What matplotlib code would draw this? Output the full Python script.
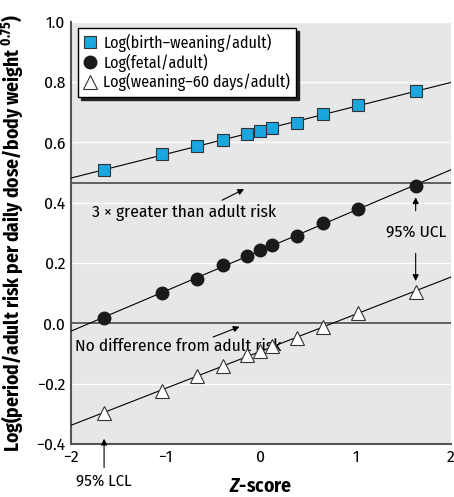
import numpy as np
import matplotlib
matplotlib.use("Agg")
import matplotlib.pyplot as plt

FONT = 'Fira Sans Condensed'
plt.rcParams['font.family'] = [FONT, 'DejaVu Sans']
plt.rcParams['mathtext.fontset'] = 'custom'
plt.rcParams['mathtext.rm'] = FONT + ':bold'
plt.rcParams['mathtext.bf'] = FONT + ':bold'
plt.rcParams['mathtext.bfit'] = FONT + ':bold:italic'
plt.rcParams['mathtext.it'] = FONT + ':italic'

# z-scores (same for all three series)
z = [-1.65, -1.045, -0.674, -0.40, -0.15, -0.01, 0.12, 0.38, 0.65, 1.02, 1.63]
birth_weaning = [0.510, 0.560, 0.587, 0.608, 0.628, 0.639, 0.647, 0.666, 0.695, 0.724, 0.770]
fetal = [0.019, 0.099, 0.146, 0.192, 0.224, 0.243, 0.260, 0.290, 0.332, 0.379, 0.454]
weaning_60 = [-0.298, -0.224, -0.175, -0.142, -0.106, -0.091, -0.077, -0.050, -0.012, 0.034, 0.104]

three_x_level = 0.465
no_diff_level = 0.0

labels = ["Log(birth\u2013weaning/adult)", "Log(fetal/adult)", "Log(weaning\u201360 days/adult)"]

fig = plt.figure(figsize=(4.54, 4.97), dpi=100)
ax = fig.add_axes([0.156, 0.107, 0.837, 0.849])
ax.set_facecolor("#e6e7e8")
ax.set_xlim(-2, 2)
ax.set_ylim(-0.4, 1.0)
ax.set_yticks(np.arange(-0.4, 1.01, 0.2))
ax.set_xticks([-2, -1, 0, 1, 2])
ax.set_yticklabels(["\u22120.4", "\u22120.2", "0.0", "0.2", "0.4", "0.6", "0.8", "1.0"])
ax.set_xticklabels(["\u22122", "\u22121", "0", "1", "2"])
ax.tick_params(length=0, labelsize=12.5, pad=4)
ax.grid(axis="y", color="white", lw=1)
ax.set_axisbelow(True)
for s in ["top", "right"]:
    ax.spines[s].set_visible(False)
for s in ["left", "bottom"]:
    ax.spines[s].set_color("#555555")
    ax.spines[s].set_linewidth(1.5)

ax.axhline(three_x_level, color="#555555", lw=1.3, zorder=2)
ax.axhline(no_diff_level, color="#555555", lw=1.3, zorder=2)

xx = np.array([-2, 2])
for ys in [birth_weaning, fetal, weaning_60]:
    b, a = np.polyfit(z, ys, 1)
    ax.plot(xx, a + b * xx, color="black", lw=0.8, zorder=3)

h1, = ax.plot(z, birth_weaning, "s", ms=8.5, mfc="#1aa7df", mec="#333333", mew=0.8, zorder=4)
h2, = ax.plot(z, fetal, "o", ms=9, mfc="#1a1a1a", mec="#1a1a1a", zorder=4)
h3, = ax.plot(z, weaning_60, "^", ms=10, mfc="white", mec="#333333", mew=0.8, zorder=4)

leg = ax.legend([h1, h2, h3], labels, loc="upper left", bbox_to_anchor=(0.02, 0.985),
                fontsize=11.5, frameon=True, fancybox=False, shadow={'color': '#222222', 'alpha': 1},
                borderpad=0.35, handlelength=0.8, handletextpad=0.4, labelspacing=0.1,
                borderaxespad=0.0)
leg.get_frame().set_edgecolor("black")
leg.get_frame().set_linewidth(1.0)
leg.get_frame().set_facecolor("white")
leg.get_frame().set_alpha(1)

arrow = dict(arrowstyle="-|>", color="black", lw=0.8, mutation_scale=9)

ax.annotate("", xy=(-0.15, 0.449), xytext=(-0.435, 0.404), arrowprops=arrow)
ax.text(-1.78, 0.367, "3 \u00d7 greater than adult risk", fontsize=12.5, va="center")

ax.annotate("", xy=(-0.197, -0.008), xytext=(-0.53, -0.049), arrowprops=arrow)
ax.text(-1.96, -0.075, "No difference from adult risk", fontsize=12.5, va="center")

ax.text(1.63, 0.30, "95% UCL", fontsize=12.5, ha="center", va="center")
ax.annotate("", xy=(1.63, 0.427), xytext=(1.63, 0.364), arrowprops=arrow)
ax.annotate("", xy=(1.63, 0.131), xytext=(1.63, 0.241), arrowprops=arrow)

ax.annotate("", xy=(-1.65, -0.374), xytext=(-1.65, -0.488), annotation_clip=False, arrowprops=arrow)
ax.text(-1.65, -0.524, "95% LCL", fontsize=12, ha="center", va="center", clip_on=False)

ax.set_xlabel("$\\mathbfit{Z}$-score", fontsize=14, fontweight="bold", labelpad=8)
ax.set_ylabel("Log(period/adult risk per daily dose/body weight $^{0.75}$)",
              fontsize=14, fontweight="bold", labelpad=8)

fig.savefig("out.png", dpi=100)
